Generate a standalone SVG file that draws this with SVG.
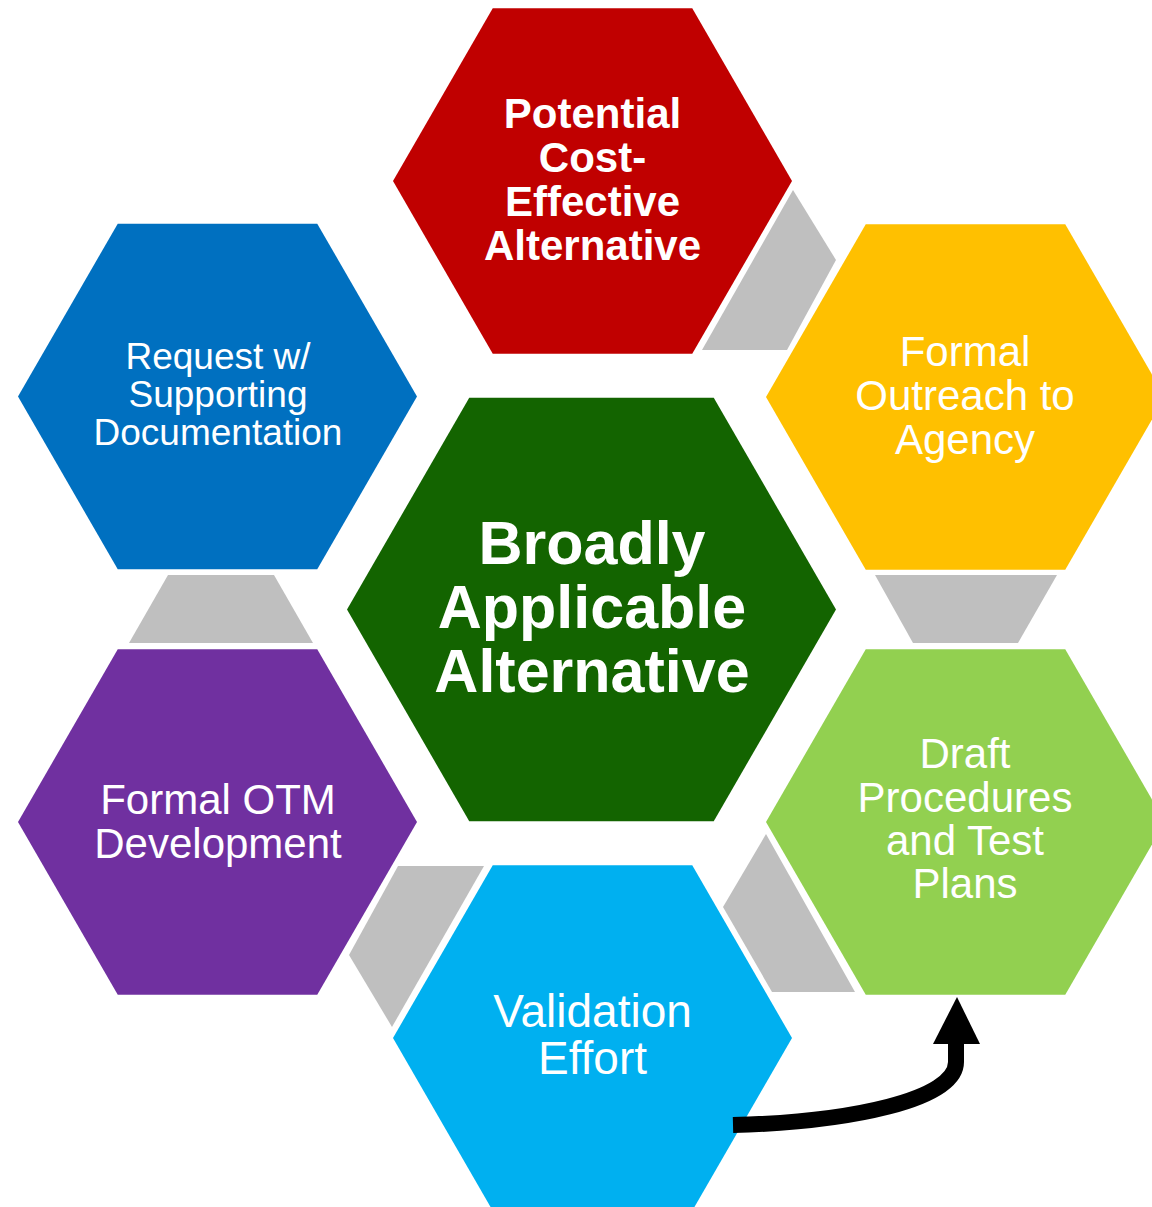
<svg xmlns="http://www.w3.org/2000/svg" width="1152" height="1207" viewBox="0 0 1152 1207">
<style>
.t{font-family:"Liberation Sans",Arial,sans-serif;fill:#fff;text-anchor:middle}
.b{font-weight:bold}
.gray{fill:#BFBFBF}
</style>
<rect width="1152" height="1207" fill="#fff"/>
<g id="node-potential">
<polygon points="393,181 492.75,8.2 692.25,8.2 792,181 692.25,353.8 492.75,353.8" fill="#C00000"/>
<text class="t b" font-size="42"><tspan x="592.5" y="128">Potential</tspan><tspan x="592.5" y="172">Cost-</tspan><tspan x="592.5" y="216">Effective</tspan><tspan x="592.5" y="260">Alternative</tspan></text>
</g>
<g id="node-outreach">
<polygon points="766,397 865.75,224.2 1065.25,224.2 1165,397 1065.25,569.8 865.75,569.8" fill="#FFC000"/>
<text class="t" font-size="42"><tspan x="965" y="366">Formal</tspan><tspan x="965" y="410">Outreach to</tspan><tspan x="965" y="454">Agency</tspan></text>
</g>
<g id="node-request">
<polygon points="18,396.5 117.75,223.7 317.25,223.7 417,396.5 317.25,569.3 117.75,569.3" fill="#0070C0"/>
<text class="t" font-size="37"><tspan x="218" y="369">Request w/</tspan><tspan x="218" y="407">Supporting</tspan><tspan x="218" y="445">Documentation</tspan></text>
</g>
<g id="node-otm">
<polygon points="18,822 117.75,649.2 317.25,649.2 417,822 317.25,994.8 117.75,994.8" fill="#7030A0"/>
<text class="t" font-size="42"><tspan x="218" y="814">Formal OTM</tspan><tspan x="218" y="858">Development</tspan></text>
</g>
<g id="node-draft">
<polygon points="766,822 865.75,649.2 1065.25,649.2 1165,822 1065.25,994.8 865.75,994.8" fill="#92D050"/>
<text class="t" font-size="42"><tspan x="965" y="768">Draft</tspan><tspan x="965" y="812">Procedures</tspan><tspan x="965" y="855">and Test</tspan><tspan x="965" y="898">Plans</tspan></text>
</g>
<g id="node-validation">
<polygon points="393,1038 492.75,865.2 692.25,865.2 792,1038 692.25,1210.8 492.75,1210.8" fill="#00B0F0"/>
<text class="t" font-size="46"><tspan x="592.5" y="1027">Validation</tspan><tspan x="592.5" y="1074">Effort</tspan></text>
</g>
<g id="node-center">
<polygon points="347,609.5 469.25,397.8 713.75,397.8 836,609.5 713.75,821.2 469.25,821.2" fill="#136400"/>
<text class="t b" font-size="61"><tspan x="592" y="564">Broadly</tspan><tspan x="592" y="628">Applicable</tspan><tspan x="592" y="692">Alternative</tspan></text>
</g>
<g id="connectors">
<polygon class="gray" points="793,190 836,260 787,350 702,350"/>
<polygon class="gray" points="875,575 1057,575 1018,643 913,643"/>
<polygon class="gray" points="168,575 274,575 313,643 129,643"/>
<polygon class="gray" points="398,866 484,866 392,1027 349,955"/>
<polygon class="gray" points="766,834 855,992 772,992 723,907"/>
<path d="M733,1125 C850,1122 956,1100 956,1062 L956,1040" fill="none" stroke="#000" stroke-width="16"/>
<polygon points="933,1044 980,1044 957,997" fill="#000"/>
</g>
</svg>
